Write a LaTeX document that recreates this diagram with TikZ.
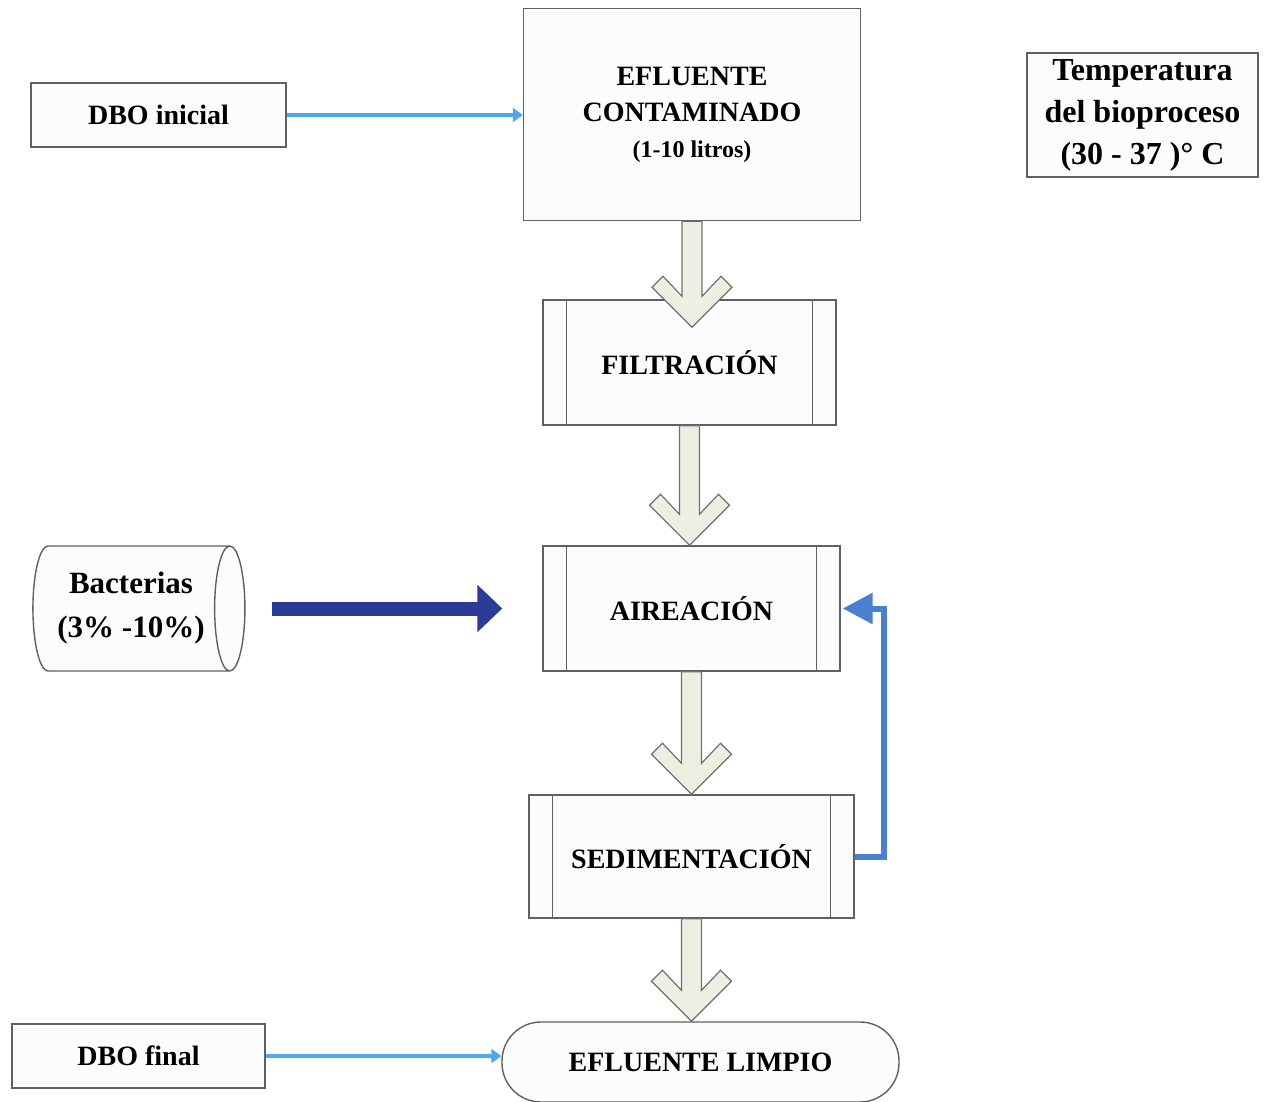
\documentclass[tikz,border=0pt]{standalone}
\usepackage{fontspec}
\setmainfont{Liberation Serif}
\usetikzlibrary{shapes.geometric,arrows.meta,calc}
\definecolor{celeste}{HTML}{4FA8EE}
\definecolor{azul}{HTML}{2A3C9A}
\definecolor{azulr}{HTML}{4A80D0}
\definecolor{borde}{HTML}{606060}
\definecolor{fondo}{HTML}{FBFCFE}
\definecolor{crema}{HTML}{EEEEE3}
\definecolor{gris}{HTML}{707070}
\begin{document}
\begin{tikzpicture}[x=0.5pt,y=-0.5pt,
caja/.style={draw=borde,fill=fondo,line width=0.7pt,inner sep=0pt,align=center,
  font=\bfseries\fontsize{14}{18}\selectfont},
bloque/.style={draw=gris,fill=crema,line width=0.6pt,line join=miter},
entrada/.style={celeste,line width=2pt,-{Triangle[length=5pt,width=7pt]}},
bacte/.style={azul,line width=7pt,-{Triangle[length=12.5pt,width=23pt]}},
retorno/.style={azulr,line width=3pt,-{Triangle[length=15pt,width=15pt]}}
]
\useasboundingbox (0,0) rectangle (1270,1102);
\def\flecha#1#2#3{
 \coordinate (punta) at ($(#1.south |- #2.north)+(0,#3)$);
 \draw[bloque] ($(#1.south)+(-10,0)$) -- ($(punta)+(-10,-31)$) -- ++(-19,-20) -- ++(-11,11)
   -- (punta) -- ++(40,-40) -- ++(-11,-11) -- ++(-19,20) -- ($(#1.south)+(10,0)$) -- cycle;
}
\node[caja,minimum width=127.5pt,minimum height=32pt] (dboi) at (158.5,115) {DBO inicial};
\node[caja,minimum width=168.5pt,minimum height=106pt] (efl) at (692,114.5)
  {EFLUENTE\\CONTAMINADO\\{\fontsize{12}{18}\selectfont(1-10 litros)}};
\node[caja,minimum width=115.5pt,minimum height=62pt,
  font=\bfseries\fontsize{16}{21}\selectfont] (temp) at (1142.5,115)
  {Temperatura\\del bioproceso\\(30 - 37 )° C};
\node[caja,minimum width=146.5pt,minimum height=62.5pt] (filt) at (689.5,362.5) {FILTRACIÓN};
\node[caja,minimum width=148.5pt,minimum height=62.5pt] (aire) at (691.5,608.5) {AIREACIÓN};
\node[caja,minimum width=162.5pt,minimum height=61.5pt] (sedi) at (691.5,856.5) {SEDIMENTACIÓN};
\node[caja,rounded corners=19.5pt,minimum width=198.5pt,minimum height=40pt] (limpio) at (700.5,1062)
  {EFLUENTE LIMPIO};
\node[caja,minimum width=126.5pt,minimum height=32pt] (dbof) at (138.5,1056) {DBO final};
\node[caja,cylinder,aspect=0.42,minimum height=106pt,minimum width=62.5pt,
  font=\bfseries\fontsize{15.5}{22}\selectfont] (bact) at (131,608.5) {Bacterias\\(3\% -10\%)};
% lineas laterales de los procesos
\foreach \n in {filt,aire,sedi}
  \draw[borde,line width=0.7pt] ([xshift=12pt]\n.north west) -- ([xshift=12pt]\n.south west)
    ([xshift=-12pt]\n.north east) -- ([xshift=-12pt]\n.south east);
\flecha{efl}{filt}{28}
\flecha{filt}{aire}{0}
\flecha{aire}{sedi}{0}
\flecha{sedi}{limpio}{0}
\draw[entrada] (dboi.east) -- (dboi.east -| efl.west);
\draw[entrada] (dbof.east) -- (dbof.east -| limpio.west);
\draw[bacte,shorten <=13pt,shorten >=20pt] (bact.east |- aire.west) -- (aire.west);
\draw[retorno,shorten >=1pt] (sedi.east) -- ++(29,0) |- (aire.east);
\end{tikzpicture}
\end{document}
